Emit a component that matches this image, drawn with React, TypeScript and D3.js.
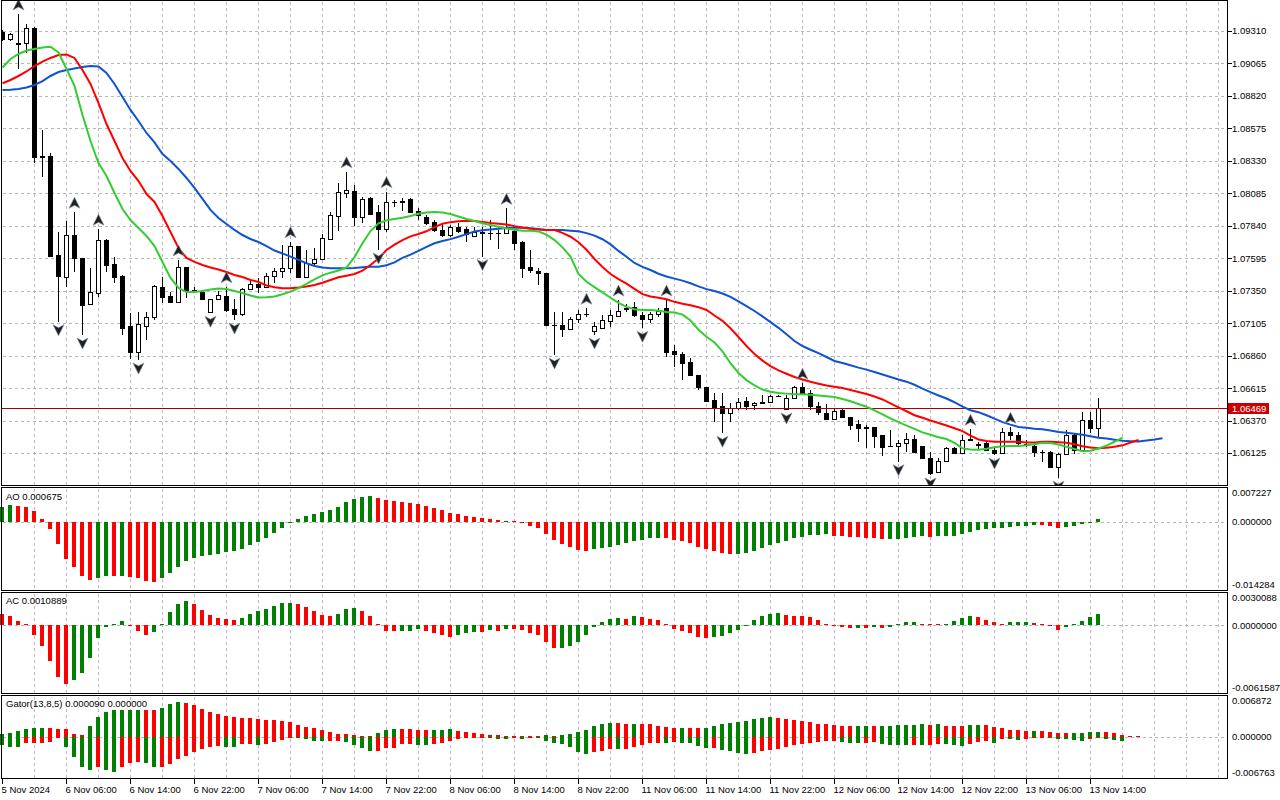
import * as d3 from "d3";

// EURUSD H1 candles, bar 0 = 5 Nov 22:00
const opens = [
  1.09303, 1.09248, 1.09216, 1.09220, 1.09331, 1.08356, 1.08366, 1.07619, 1.07456, 1.07768,
  1.07594, 1.07250, 1.07335, 1.07732, 1.07549, 1.07461, 1.07084, 1.06886, 1.07086, 1.07154,
  1.07376, 1.07310, 1.07267, 1.07527, 1.07350, 1.07338, 1.07192, 1.07288, 1.07310, 1.07210,
  1.07172, 1.07361, 1.07401, 1.07380, 1.07461, 1.07499, 1.07519, 1.07687, 1.07456, 1.07557,
  1.07587, 1.07740, 1.07916, 1.08085, 1.08102, 1.07908, 1.08047, 1.07944, 1.07813, 1.08017,
  1.08021, 1.08039, 1.07951, 1.07904, 1.07866, 1.07808, 1.07770, 1.07828, 1.07813, 1.07763,
  1.07790, 1.07785, 1.07783, 1.07783, 1.07803, 1.07720, 1.07531, 1.07499, 1.07481, 1.07092,
  1.07092, 1.07061, 1.07135, 1.07172, 1.07049, 1.07071, 1.07124, 1.07159, 1.07210, 1.07230,
  1.07167, 1.07135, 1.07174, 1.07217, 1.06895, 1.06871, 1.06810, 1.06715, 1.06622, 1.06526,
  1.06481, 1.06426, 1.06468, 1.06519, 1.06488, 1.06505, 1.06513, 1.06556, 1.06456, 1.06539,
  1.06626, 1.06577, 1.06481, 1.06430, 1.06381, 1.06451, 1.06396, 1.06343, 1.06317, 1.06320,
  1.06262, 1.06176, 1.06179, 1.06200, 1.06230, 1.06179, 1.06086, 1.05985, 1.06068, 1.06162,
  1.06124, 1.06227, 1.06190, 1.06200, 1.06149, 1.06124, 1.06287, 1.06262, 1.06195, 1.06179,
  1.06134, 1.06136, 1.06023, 1.06119, 1.06262, 1.06149, 1.06375, 1.06313,
];
const highs = [
  1.09316, 1.09290, 1.09436, 1.09361, 1.09335, 1.08562, 1.08386, 1.07791, 1.07878, 1.07941,
  1.07600, 1.07519, 1.07813, 1.07738, 1.07607, 1.07465, 1.07180, 1.07187, 1.07192, 1.07393,
  1.07456, 1.07343, 1.07582, 1.07531, 1.07380, 1.07355, 1.07290, 1.07350, 1.07380, 1.07285,
  1.07368, 1.07431, 1.07446, 1.07481, 1.07519, 1.07695, 1.07720, 1.07690, 1.07657, 1.07670,
  1.07775, 1.07946, 1.08164, 1.08247, 1.08147, 1.08059, 1.08059, 1.07996, 1.08097, 1.08034,
  1.08047, 1.08047, 1.07971, 1.07921, 1.07883, 1.07858, 1.07846, 1.07863, 1.07833, 1.07833,
  1.07828, 1.07883, 1.07808, 1.07971, 1.07808, 1.07722, 1.07657, 1.07519, 1.07485, 1.07192,
  1.07192, 1.07154, 1.07205, 1.07217, 1.07116, 1.07167, 1.07205, 1.07280, 1.07250, 1.07267,
  1.07192, 1.07192, 1.07217, 1.07280, 1.06941, 1.06890, 1.06840, 1.06718, 1.06626, 1.06577,
  1.06577, 1.06501, 1.06539, 1.06551, 1.06513, 1.06564, 1.06564, 1.06564, 1.06564, 1.06632,
  1.06652, 1.06601, 1.06513, 1.06496, 1.06456, 1.06458, 1.06400, 1.06375, 1.06338, 1.06325,
  1.06265, 1.06300, 1.06224, 1.06275, 1.06262, 1.06182, 1.06136, 1.06086, 1.06169, 1.06174,
  1.06262, 1.06305, 1.06212, 1.06212, 1.06174, 1.06313, 1.06320, 1.06287, 1.06224, 1.06212,
  1.06149, 1.06140, 1.06124, 1.06300, 1.06275, 1.06438, 1.06438, 1.06539,
];
const lows = [
  1.09233, 1.09231, 1.09020, 1.09140, 1.08311, 1.08210, 1.07605, 1.07116, 1.07380, 1.07493,
  1.07016, 1.07245, 1.07305, 1.07493, 1.07410, 1.07016, 1.06835, 1.06828, 1.06978, 1.07129,
  1.07255, 1.07255, 1.07255, 1.07293, 1.07331, 1.07280, 1.07180, 1.07280, 1.07192, 1.07129,
  1.07160, 1.07355, 1.07335, 1.07368, 1.07406, 1.07444, 1.07481, 1.07450, 1.07450, 1.07531,
  1.07582, 1.07732, 1.07803, 1.08047, 1.07838, 1.07863, 1.07921, 1.07657, 1.07795, 1.07984,
  1.07953, 1.07934, 1.07883, 1.07846, 1.07795, 1.07757, 1.07757, 1.07787, 1.07720, 1.07757,
  1.07607, 1.07732, 1.07662, 1.07780, 1.07657, 1.07444, 1.07481, 1.07393, 1.07088, 1.06865,
  1.06999, 1.07054, 1.07104, 1.07154, 1.07016, 1.07065, 1.07079, 1.07154, 1.07192, 1.07150,
  1.07067, 1.07104, 1.07154, 1.06853, 1.06777, 1.06677, 1.06712, 1.06601, 1.06518, 1.06362,
  1.06275, 1.06362, 1.06451, 1.06451, 1.06451, 1.06496, 1.06506, 1.06546, 1.06451, 1.06536,
  1.06574, 1.06451, 1.06413, 1.06375, 1.06375, 1.06393, 1.06300, 1.06212, 1.06162, 1.06162,
  1.06104, 1.06172, 1.06061, 1.06136, 1.06133, 1.06083, 1.05960, 1.05978, 1.06061, 1.06121,
  1.06121, 1.06222, 1.06149, 1.06144, 1.06111, 1.06116, 1.06224, 1.06187, 1.06174, 1.06099,
  1.06061, 1.06020, 1.05936, 1.06111, 1.06119, 1.06136, 1.06275, 1.06237,
];
const closes = [
  1.09246, 1.09283, 1.09214, 1.09331, 1.08356, 1.08366, 1.07612, 1.07463, 1.07768, 1.07594,
  1.07242, 1.07338, 1.07732, 1.07544, 1.07456, 1.07071, 1.06886, 1.07099, 1.07150, 1.07386,
  1.07305, 1.07267, 1.07527, 1.07350, 1.07352, 1.07285, 1.07285, 1.07318, 1.07205, 1.07172,
  1.07361, 1.07398, 1.07376, 1.07461, 1.07499, 1.07521, 1.07687, 1.07456, 1.07557, 1.07589,
  1.07745, 1.07921, 1.08092, 1.08109, 1.07908, 1.08039, 1.07928, 1.07813, 1.08017, 1.08021,
  1.08029, 1.07941, 1.07921, 1.07863, 1.07808, 1.07770, 1.07828, 1.07803, 1.07778, 1.07795,
  1.07787, 1.07783, 1.07785, 1.07821, 1.07712, 1.07524, 1.07506, 1.07481, 1.07092, 1.07090,
  1.07061, 1.07135, 1.07172, 1.07174, 1.07084, 1.07129, 1.07167, 1.07197, 1.07217, 1.07167,
  1.07135, 1.07174, 1.07197, 1.06890, 1.06871, 1.06807, 1.06715, 1.06622, 1.06521, 1.06476,
  1.06426, 1.06468, 1.06513, 1.06481, 1.06501, 1.06509, 1.06556, 1.06558, 1.06539, 1.06626,
  1.06577, 1.06481, 1.06438, 1.06381, 1.06445, 1.06396, 1.06338, 1.06317, 1.06320, 1.06255,
  1.06174, 1.06179, 1.06200, 1.06230, 1.06136, 1.06086, 1.05978, 1.06068, 1.06162, 1.06124,
  1.06224, 1.06230, 1.06192, 1.06149, 1.06124, 1.06287, 1.06262, 1.06204, 1.06192, 1.06132,
  1.06136, 1.06023, 1.06119, 1.06262, 1.06149, 1.06375, 1.06313, 1.06469,
];

// Alligator lines, already shifted (jaw +8, teeth +5, lips +3 bars)
const jaws = [
  1.08863, 1.08866, 1.08871, 1.08882, 1.08901, 1.08931, 1.08969, 1.08999, 1.09014, 1.09025,
  1.09037, 1.09044, 1.09041, 1.08992, 1.08909, 1.08811, 1.08713, 1.08630, 1.08539, 1.08468,
  1.08381, 1.08328, 1.08268, 1.08200, 1.08125, 1.08042, 1.07959, 1.07898, 1.07853, 1.07808,
  1.07770, 1.07740, 1.07717, 1.07687, 1.07653, 1.07631, 1.07607, 1.07582, 1.07557, 1.07536,
  1.07525, 1.07519, 1.07519, 1.07519, 1.07521, 1.07527, 1.07531, 1.07531, 1.07542, 1.07564,
  1.07597, 1.07622, 1.07650, 1.07680, 1.07708, 1.07725, 1.07739, 1.07757, 1.07777, 1.07796,
  1.07806, 1.07812, 1.07817, 1.07823, 1.07827, 1.07825, 1.07821, 1.07815, 1.07808, 1.07808,
  1.07807, 1.07803, 1.07798, 1.07784, 1.07765, 1.07738, 1.07699, 1.07650, 1.07606, 1.07559,
  1.07530, 1.07506, 1.07478, 1.07457, 1.07441, 1.07426, 1.07406, 1.07383, 1.07362, 1.07348,
  1.07329, 1.07304, 1.07269, 1.07233, 1.07197, 1.07156, 1.07113, 1.07070, 1.07021, 1.06971,
  1.06933, 1.06905, 1.06879, 1.06850, 1.06820, 1.06805, 1.06788, 1.06770, 1.06755, 1.06737,
  1.06718, 1.06699, 1.06680, 1.06664, 1.06641, 1.06612, 1.06585, 1.06560, 1.06537, 1.06509,
  1.06476, 1.06449, 1.06434, 1.06411, 1.06386, 1.06359, 1.06340, 1.06323, 1.06316, 1.06310,
  1.06306, 1.06296, 1.06285, 1.06279, 1.06271, 1.06264, 1.06252, 1.06241, 1.06235, 1.06227,
  1.06218, 1.06215, 1.06213, 1.06221, 1.06228, 1.06237,
];
const teeth = [
  1.08914, 1.08939, 1.08969, 1.09003, 1.09044, 1.09078, 1.09105, 1.09127, 1.09131, 1.09105,
  1.09014, 1.08909, 1.08765, 1.08607, 1.08479, 1.08351, 1.08253, 1.08177, 1.08079, 1.08019,
  1.07913, 1.07793, 1.07672, 1.07597, 1.07567, 1.07544, 1.07525, 1.07510, 1.07491, 1.07469,
  1.07453, 1.07431, 1.07416, 1.07389, 1.07376, 1.07368, 1.07368, 1.07374, 1.07382, 1.07393,
  1.07410, 1.07431, 1.07451, 1.07463, 1.07476, 1.07502, 1.07544, 1.07593, 1.07657, 1.07698,
  1.07732, 1.07760, 1.07778, 1.07798, 1.07830, 1.07855, 1.07867, 1.07874, 1.07877, 1.07875,
  1.07869, 1.07861, 1.07855, 1.07849, 1.07837, 1.07827, 1.07818, 1.07811, 1.07808, 1.07807,
  1.07786, 1.07757, 1.07716, 1.07659, 1.07589, 1.07529, 1.07476, 1.07438, 1.07404, 1.07364,
  1.07324, 1.07306, 1.07297, 1.07286, 1.07266, 1.07252, 1.07240, 1.07226, 1.07205, 1.07163,
  1.07123, 1.07067, 1.07001, 1.06933, 1.06873, 1.06823, 1.06782, 1.06749, 1.06724, 1.06699,
  1.06680, 1.06663, 1.06648, 1.06635, 1.06625, 1.06616, 1.06601, 1.06586, 1.06571, 1.06552,
  1.06530, 1.06501, 1.06471, 1.06441, 1.06411, 1.06392, 1.06371, 1.06353, 1.06334, 1.06313,
  1.06291, 1.06258, 1.06228, 1.06217, 1.06212, 1.06212, 1.06212, 1.06211, 1.06206, 1.06206,
  1.06212, 1.06212, 1.06208, 1.06203, 1.06192, 1.06177, 1.06168, 1.06162, 1.06165, 1.06173,
  1.06184, 1.06205, 1.06224,
];
const lips = [
  1.09033, 1.09097, 1.09135, 1.09161, 1.09173, 1.09184, 1.09190, 1.09146, 1.09022, 1.08894,
  1.08675, 1.08479, 1.08313, 1.08215, 1.08087, 1.07966, 1.07883, 1.07823, 1.07763, 1.07687,
  1.07567, 1.07446, 1.07371, 1.07340, 1.07340, 1.07348, 1.07359, 1.07367, 1.07363, 1.07348,
  1.07333, 1.07314, 1.07299, 1.07300, 1.07307, 1.07323, 1.07343, 1.07369, 1.07401, 1.07435,
  1.07466, 1.07486, 1.07502, 1.07525, 1.07603, 1.07708, 1.07800, 1.07858, 1.07881, 1.07891,
  1.07900, 1.07913, 1.07930, 1.07940, 1.07943, 1.07939, 1.07928, 1.07909, 1.07891, 1.07875,
  1.07859, 1.07846, 1.07832, 1.07819, 1.07809, 1.07803, 1.07803, 1.07797, 1.07772, 1.07732,
  1.07677, 1.07607, 1.07476, 1.07417, 1.07377, 1.07337, 1.07297, 1.07259, 1.07228, 1.07210,
  1.07205, 1.07205, 1.07199, 1.07190, 1.07186, 1.07170, 1.07125, 1.07056, 1.07003, 1.06959,
  1.06892, 1.06803, 1.06730, 1.06676, 1.06637, 1.06605, 1.06588, 1.06579, 1.06574, 1.06569,
  1.06569, 1.06565, 1.06560, 1.06555, 1.06549, 1.06533, 1.06516, 1.06496, 1.06475, 1.06448,
  1.06418, 1.06388, 1.06359, 1.06333, 1.06308, 1.06282, 1.06264, 1.06245, 1.06232, 1.06203,
  1.06161, 1.06152, 1.06150, 1.06158, 1.06170, 1.06178, 1.06179, 1.06180, 1.06184, 1.06192,
  1.06203, 1.06202, 1.06190, 1.06173, 1.06156, 1.06139, 1.06143, 1.06160, 1.06182, 1.06211,
  1.06243,
];

// bars carrying a fractal
const fractalUp = [2, 9, 12, 22, 28, 36, 43, 48, 63, 73, 77, 83, 100, 121, 126];
const fractalDown = [7, 10, 17, 26, 29, 47, 60, 69, 74, 80, 90, 98, 112, 116, 124, 132];

const aoValues = [
  0.00319, 0.00355, 0.00334, 0.00313, 0.00228, 0.00057, -0.00155, -0.00475, -0.00781, -0.00958,
  -0.01134, -0.01219, -0.01177, -0.01134, -0.01149, -0.01138, -0.01170, -0.01192, -0.01255, -0.01262,
  -0.01192, -0.01085, -0.00958, -0.00836, -0.00772, -0.00723, -0.00702, -0.00681, -0.00638, -0.00617,
  -0.00575, -0.00496, -0.00432, -0.00340, -0.00240, -0.00128, -0.00015, 0.00064, 0.00128, 0.00170,
  0.00213, 0.00255, 0.00319, 0.00426, 0.00489, 0.00532, 0.00553, 0.00511, 0.00468, 0.00447,
  0.00426, 0.00404, 0.00383, 0.00340, 0.00298, 0.00255, 0.00192, 0.00170, 0.00128, 0.00106,
  0.00085, 0.00064, 0.00028, 0.00021, 0.00006, -0.00006, -0.00085, -0.00128, -0.00255, -0.00383,
  -0.00468, -0.00532, -0.00596, -0.00617, -0.00575, -0.00547, -0.00532, -0.00489, -0.00447, -0.00404,
  -0.00383, -0.00340, -0.00336, -0.00340, -0.00383, -0.00404, -0.00447, -0.00532, -0.00575, -0.00617,
  -0.00660, -0.00681, -0.00677, -0.00660, -0.00617, -0.00553, -0.00489, -0.00447, -0.00404, -0.00340,
  -0.00319, -0.00277, -0.00272, -0.00268, -0.00298, -0.00302, -0.00319, -0.00323, -0.00340, -0.00345,
  -0.00362, -0.00357, -0.00355, -0.00334, -0.00319, -0.00298, -0.00319, -0.00298, -0.00296, -0.00294,
  -0.00255, -0.00213, -0.00170, -0.00149, -0.00128, -0.00126, -0.00106, -0.00085, -0.00083, -0.00064,
  -0.00068, -0.00085, -0.00128, -0.00106, -0.00085, -0.00043, -0.00006, 0.000675,
];
const acValues = [
  0.00101, 0.00083, 0.00037, 0.00006, -0.00083, -0.00190, -0.00321, -0.00468, -0.00538, -0.00495,
  -0.00431, -0.00300, -0.00116, -0.00016, 0.00016, 0.00037, -0.00006, -0.00052, -0.00083, -0.00061,
  0.00009, 0.00119, 0.00193, 0.00220, 0.00193, 0.00138, 0.00092, 0.00067, 0.00055, 0.00046,
  0.00067, 0.00101, 0.00128, 0.00147, 0.00174, 0.00202, 0.00204, 0.00193, 0.00165, 0.00128,
  0.00092, 0.00083, 0.00101, 0.00147, 0.00156, 0.00128, 0.00083, 0.00009, -0.00046, -0.00052,
  -0.00050, -0.00049, -0.00034, -0.00052, -0.00071, -0.00089, -0.00101, -0.00089, -0.00071, -0.00061,
  -0.00062, -0.00043, -0.00052, -0.00034, -0.00035, -0.00043, -0.00071, -0.00089, -0.00153, -0.00208,
  -0.00207, -0.00190, -0.00153, -0.00089, -0.00016, 0.00028, 0.00055, 0.00064, 0.00063, 0.00083,
  0.00073, 0.00055, 0.00046, 0.00018, -0.00028, -0.00046, -0.00064, -0.00101, -0.00110, -0.00101,
  -0.00092, -0.00073, -0.00037, -0.00003, 0.00046, 0.00083, 0.00101, 0.00110, 0.00092, 0.00091,
  0.00083, 0.00073, 0.00046, 0.00018, -0.00005, -0.00016, -0.00025, -0.00024, -0.00025, -0.00016,
  -0.00025, -0.00016, 0.00018, 0.00028, 0.00029, 0.00018, 0.00009, 0.00008, 0.00009, 0.00037,
  0.00064, 0.00083, 0.00073, 0.00046, 0.00028, 0.00018, 0.00028, 0.00029, 0.00030, 0.00027,
  0.00009, -0.00003, -0.00037, -0.00016, 0.00009, 0.00037, 0.00073, 0.0010889,
];
const gatorUpper = [
  0.00055, 0.00072, 0.00100, 0.00138, 0.00155, 0.00156, 0.00155, 0.00138, 0.00136, 0.00055,
  0.00038, 0.00178, 0.00333, 0.00416, 0.00444, 0.00446, 0.00448, 0.00449, 0.00448, 0.00446,
  0.00483, 0.00554, 0.00582, 0.00566, 0.00527, 0.00471, 0.00416, 0.00378, 0.00349, 0.00333,
  0.00321, 0.00319, 0.00305, 0.00278, 0.00276, 0.00261, 0.00245, 0.00205, 0.00171, 0.00155,
  0.00121, 0.00088, 0.00055, 0.00053, 0.00038, 0.00022, 0.00020, 0.00072, 0.00121, 0.00138,
  0.00136, 0.00135, 0.00121, 0.00120, 0.00121, 0.00123, 0.00138, 0.00105, 0.00088, 0.00072,
  0.00055, 0.00038, 0.00037, 0.00022, 0.00020, 0.00008, 0.00005, 0.00003, 0.00028, 0.00002,
  0.00028, 0.00055, 0.00088, 0.00121, 0.00188, 0.00221, 0.00238, 0.00236, 0.00221, 0.00223,
  0.00221, 0.00220, 0.00188, 0.00171, 0.00155, 0.00156, 0.00155, 0.00153, 0.00155, 0.00188,
  0.00221, 0.00238, 0.00255, 0.00271, 0.00305, 0.00321, 0.00338, 0.00321, 0.00305, 0.00288,
  0.00271, 0.00255, 0.00221, 0.00220, 0.00205, 0.00188, 0.00186, 0.00188, 0.00190, 0.00188,
  0.00190, 0.00191, 0.00193, 0.00205, 0.00206, 0.00208, 0.00206, 0.00208, 0.00188, 0.00186,
  0.00185, 0.00205, 0.00206, 0.00205, 0.00171, 0.00155, 0.00121, 0.00120, 0.00105, 0.00106,
  0.00105, 0.00088, 0.00072, 0.00070, 0.00072, 0.00073, 0.00088, 0.00090, 0.00088, 0.00072,
  0.00038, 0.00022, 0.00005,
];
const gatorLower = [
  -0.00128, -0.00166, -0.00170, -0.00100, -0.00097, -0.00092, -0.00083, -0.00008, -0.00166, -0.00333,
  -0.00499, -0.00544, -0.00499, -0.00544, -0.00582, -0.00499, -0.00433, -0.00404, -0.00433, -0.00499,
  -0.00494, -0.00444, -0.00361, -0.00305, -0.00250, -0.00195, -0.00166, -0.00155, -0.00158, -0.00160,
  -0.00121, -0.00120, -0.00128, -0.00116, -0.00083, -0.00055, -0.00005, -0.00008, -0.00028, -0.00062,
  -0.00063, -0.00062, -0.00060, -0.00078, -0.00128, -0.00178, -0.00228, -0.00226, -0.00178, -0.00176,
  -0.00111, -0.00110, -0.00128, -0.00130, -0.00111, -0.00095, -0.00062, -0.00028, -0.00008, -0.00005,
  -0.00003, -0.00017, -0.00028, -0.00030, -0.00017, -0.00028, -0.00005, -0.00007, -0.00062, -0.00095,
  -0.00111, -0.00161, -0.00245, -0.00278, -0.00245, -0.00228, -0.00195, -0.00196, -0.00195, -0.00161,
  -0.00128, -0.00095, -0.00093, -0.00095, -0.00078, -0.00095, -0.00097, -0.00145, -0.00178, -0.00176,
  -0.00211, -0.00228, -0.00261, -0.00278, -0.00261, -0.00228, -0.00211, -0.00195, -0.00161, -0.00128,
  -0.00111, -0.00095, -0.00078, -0.00062, -0.00060, -0.00078, -0.00095, -0.00097, -0.00095, -0.00078,
  -0.00111, -0.00128, -0.00130, -0.00131, -0.00130, -0.00131, -0.00130, -0.00111, -0.00113, -0.00128,
  -0.00145, -0.00111, -0.00078, -0.00062, -0.00095, -0.00028, -0.00030, -0.00045, -0.00028, -0.00017,
  -0.00005, -0.00017, -0.00028, -0.00030, -0.00045, -0.00062, -0.00028, -0.00017, -0.00028, -0.00045,
  -0.00062,
];
const gatorLabelValues = [0.00009, 0];

const priceTicks = [
  1.09310, 1.09065, 1.08820, 1.08575, 1.08330, 1.08085, 1.07840,
  1.07595, 1.07350, 1.07105, 1.06860, 1.06615, 1.06370, 1.06125,
];
const aoTicks = [0.007227, 0, -0.014284];
const acTicks = [0.0030088, 0, -0.0061587];
const gatorTicks = [0.006872, 0, -0.006763];
const timeLabels = [
  "5 Nov 2024", "6 Nov 06:00", "6 Nov 14:00", "6 Nov 22:00", "7 Nov 06:00", "7 Nov 14:00",
  "7 Nov 22:00", "8 Nov 06:00", "8 Nov 14:00", "8 Nov 22:00", "11 Nov 06:00", "11 Nov 14:00",
  "11 Nov 22:00", "12 Nov 06:00", "12 Nov 14:00", "12 Nov 22:00", "13 Nov 06:00", "13 Nov 14:00",
];
const lastPrice = closes[closes.length - 1];

const FONT = "'Liberation Sans', Arial, sans-serif";
const GREEN = "#008000";
const RED = "#ff0000";
const LEFT = 1.5;
const RIGHT = 1227.5;
const GRID_V = "#c4b2c4";
const GRID_H = "#adbcad";

const panels = {
  main: { top: 0.5, bottom: 485.5 },
  ao: { top: 487.5, bottom: 590.5 },
  ac: { top: 592.5, bottom: 693.5 },
  gator: { top: 695.5, bottom: 778.5 },
};

// 8 px per hourly bar
const x = d3.scaleLinear().domain([0, 1]).range([2.5, 10.5]);
const y = d3.scaleLinear().domain([1.05885, 1.09542]).range([485, 0]);
const yAO = d3.scaleLinear().domain([-0.014284, 0.007227]).range([589.5, 487.5]);
const yAC = d3.scaleLinear().domain([-0.0061587, 0.0030088]).range([693, 592.5]);
const yGator = d3.scaleLinear().domain([-0.006763, 0.006872]).range([778, 695.5]);

const rising = (vals: number[], first: string) =>
  vals.map((v, i) => (i === 0 ? first : v > vals[i - 1] ? GREEN : RED));
const widening = (vals: number[], first: string) =>
  vals.map((v, i) => (i === 0 ? first : Math.abs(v) > Math.abs(vals[i - 1]) ? GREEN : RED));

const crisp = (v: number) => Math.round(v) + 0.5;

type Scale = d3.ScaleLinear<number, number>;

const Bars = ({ values, scale, colors }: { values: number[]; scale: Scale; colors: string[] }) => {
  const zero = scale(0);
  return (
    <g shapeRendering="crispEdges">
      {values.map((v, i) => {
        const yv = scale(v);
        let top = Math.min(yv, zero);
        let h = Math.abs(yv - zero);
        if (v !== 0 && h < 1) {
          h = 1;
          top = v < 0 ? zero : zero - 1;
        }
        return <rect key={i} x={x(i) - 2.5} y={top} width={4} height={h} fill={colors[i]} />;
      })}
    </g>
  );
};

const VGrid = ({ top, bottom }: { top: number; bottom: number }) => (
  <g stroke={GRID_V} strokeDasharray="3,3" shapeRendering="crispEdges">
    {d3.range(4, 154, 4).map((i) => (
      <line key={i} x1={x(i)} x2={x(i)} y1={top + 1} y2={bottom - 1} />
    ))}
  </g>
);

const ZeroLine = ({ scale }: { scale: Scale }) => (
  <line x1={LEFT + 1} x2={RIGHT - 1} y1={crisp(scale(0))} y2={crisp(scale(0))}
    stroke={GRID_H} strokeDasharray="3,3" shapeRendering="crispEdges" />
);

const AxisLabels = ({ ticks, scale, digits, top, bottom }:
  { ticks: number[]; scale: Scale; digits: number; top: number; bottom: number }) => (
  <g fontFamily={FONT} fontSize={9.5} fill="#000">
    {ticks.map((t, k) => {
      const ty = k === 0 ? top + 5.5 : k === ticks.length - 1 ? bottom - 5.5 : scale(t);
      return (
        <text key={k} x={1232} y={ty} dy="0.35em">{t.toFixed(digits)}</text>
      );
    })}
  </g>
);

// notched arrowheads like the terminal's fractal marks
const upArrow = "M0,-6L5.5,5L0,2L-5.5,5Z";
const downArrow = "M0,6L5.5,-5L0,-2L-5.5,-5Z";

export default function App() {
  const line = d3.line<number>().x((_, i) => x(i)).y((v) => y(v));
  const yp = crisp(y(lastPrice));

  return (
    <svg width={1280} height={800} style={{ position: "absolute", left: 0, top: 0, background: "#fff" }}>
      <defs>
        <clipPath id="clip-main">
          <rect x={2} y={1} width={1225} height={484} />
        </clipPath>
      </defs>
      <rect width={1280} height={800} fill="#fff" />

      {/* grids */}
      <g stroke={GRID_H} strokeDasharray="3,3" shapeRendering="crispEdges">
        {priceTicks.map((p) => (
          <line key={p} x1={LEFT + 1} x2={RIGHT - 1} y1={crisp(y(p))} y2={crisp(y(p))} />
        ))}
      </g>
      {Object.values(panels).map((p, k) => <VGrid key={k} top={p.top} bottom={p.bottom} />)}
      <ZeroLine scale={yAO} />
      <ZeroLine scale={yAC} />
      <ZeroLine scale={yGator} />

      {/* main panel */}
      <g clipPath="url(#clip-main)">
        <g shapeRendering="crispEdges">
          {opens.map((o, i) => {
            const c = closes[i];
            const cx = x(i);
            const top = Math.round(Math.min(y(o), y(c)));
            const bot = Math.round(Math.max(y(o), y(c)));
            return (
              <g key={i}>
                <line x1={cx} x2={cx} y1={y(highs[i])} y2={y(lows[i])} stroke="#000" />
                {bot - top < 1 ? (
                  <line x1={cx - 2.5} x2={cx + 2.5} y1={top + 0.5} y2={top + 0.5} stroke="#000" />
                ) : c >= o ? (
                  <rect x={cx - 2} y={top + 0.5} width={4} height={bot - top} fill="#fff" stroke="#000" />
                ) : (
                  <rect x={cx - 2.5} y={top} width={5} height={bot - top + 1} fill="#000" />
                )}
              </g>
            );
          })}
        </g>
        <line x1={LEFT} x2={RIGHT} y1={yp} y2={yp} stroke="#a80000" shapeRendering="crispEdges" />
        <path d={line(jaws) ?? ""} fill="none" stroke="#0f52d2" strokeWidth={2} />
        <path d={line(teeth) ?? ""} fill="none" stroke="#ff0000" strokeWidth={2} />
        <path d={line(lips) ?? ""} fill="none" stroke="#32cd32" strokeWidth={2} />
        {fractalUp.map((i) => (
          <path key={"u" + i} d={upArrow} transform={`translate(${x(i)},${y(highs[i]) - 9})`}
            fill="#202020" stroke="#7d8fa8" strokeWidth={0.6} />
        ))}
        {fractalDown.map((i) => (
          <path key={"d" + i} d={downArrow} transform={`translate(${x(i)},${y(lows[i]) + 8})`}
            fill="#202020" stroke="#7d8fa8" strokeWidth={0.6} />
        ))}
      </g>

      {/* indicator panels */}
      <Bars values={aoValues} scale={yAO} colors={rising(aoValues, GREEN)} />
      <Bars values={acValues} scale={yAC} colors={rising(acValues, RED)} />
      <Bars values={gatorUpper} scale={yGator} colors={rising(gatorUpper, GREEN)} />
      <Bars values={gatorLower} scale={yGator} colors={widening(gatorLower, GREEN)} />

      {/* frames */}
      <g fill="none" stroke="#000" shapeRendering="crispEdges">
        {Object.values(panels).map((p, k) => (
          <rect key={k} x={LEFT} y={p.top} width={RIGHT - LEFT} height={p.bottom - p.top} />
        ))}
      </g>

      {/* price axis */}
      <g stroke="#000" shapeRendering="crispEdges">
        {priceTicks.map((p) => (
          <line key={p} x1={RIGHT} x2={RIGHT + 4} y1={crisp(y(p))} y2={crisp(y(p))} />
        ))}
      </g>
      <g fontFamily={FONT} fontSize={9.5} fill="#000">
        {priceTicks.map((p) => (
          <text key={p} x={1232} y={y(p)} dy="0.35em">{p.toFixed(5)}</text>
        ))}
      </g>
      <rect x={1228} y={yp - 6} width={41} height={11} fill="#cc0000" shapeRendering="crispEdges" />
      <text x={1232} y={yp} dy="0.35em" fontFamily={FONT} fontSize={9.5} fill="#fff">
        {lastPrice.toFixed(5)}
      </text>

      <AxisLabels ticks={aoTicks} scale={yAO} digits={6} top={panels.ao.top} bottom={panels.ao.bottom} />
      <AxisLabels ticks={acTicks} scale={yAC} digits={7} top={panels.ac.top} bottom={panels.ac.bottom} />
      <AxisLabels ticks={gatorTicks} scale={yGator} digits={6} top={panels.gator.top} bottom={panels.gator.bottom} />

      {/* panel titles */}
      <g fontFamily={FONT} fontSize={9.5} fill="#000">
        <text x={6} y={496.5} dy="0.35em">{`AO ${aoValues[aoValues.length - 1].toFixed(6)}`}</text>
        <text x={6} y={601} dy="0.35em">{`AC ${acValues[acValues.length - 1].toFixed(7)}`}</text>
        <text x={6} y={703.5} dy="0.35em">
          {`Gator(13,8,5) ${gatorLabelValues.map((v) => v.toFixed(6)).join(" ")}`}
        </text>
      </g>

      {/* time axis */}
      <g stroke="#000" shapeRendering="crispEdges">
        {timeLabels.map((_, k) => (
          <line key={k} x1={x(k * 8)} x2={x(k * 8)} y1={778.5} y2={784} />
        ))}
      </g>
      <g fontFamily={FONT} fontSize={9.5} fill="#000">
        {timeLabels.map((t, k) => (
          <text key={k} x={x(k * 8) - 1} y={789.5} dy="0.35em">{t}</text>
        ))}
      </g>
    </svg>
  );
}
